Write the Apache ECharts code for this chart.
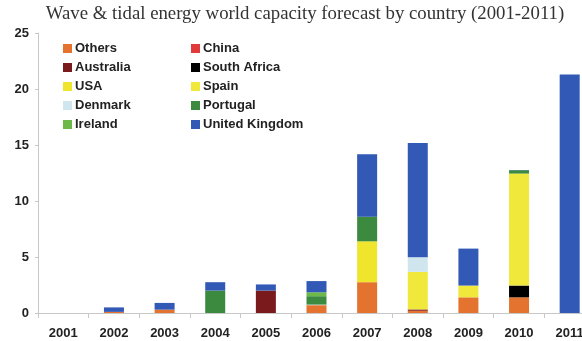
<!DOCTYPE html>
<html><head><meta charset="utf-8">
<script src="https://cdn.jsdelivr.net/npm/echarts@6/dist/echarts.min.js"></script>
<style>html,body{margin:0;padding:0;background:#fff;overflow:hidden;width:582px;height:341px}#c{width:595px;height:341px}</style>
</head><body><div id="c"></div>
<script>
const years = ['2001','2002','2003','2004','2005','2006','2007','2008','2009','2010','2011'];
const others       = [0, 0.1, 0.3, 0,   0,    0.7, 2.75, 0.2, 1.4, 1.4, 0];
const china        = [0, 0,   0,   0,   0,    0,   0,    0,   0,   0,   0];
const australia    = [0, 0,   0,   0,   2.0,  0,   0,    0.12,0,   0,   0];
const southAfrica  = [0, 0,   0,   0,   0,    0,   0,    0,   0,   1.05,0];
const usa          = [0, 0,   0,   0,   0,    0,   3.65, 0,   0,   0,   0];
const spain        = [0, 0,   0,   0,   0,    0,   0,    3.35,1.05,10.0,0];
const denmark      = [0, 0,   0,   0,   0,    0.05,0,    1.3, 0,   0,   0];
const portugal     = [0, 0,   0,   2.0, 0,    0.75,2.2,  0,   0,   0.3, 0];
const ireland      = [0, 0,   0,   0,   0,    0.35,0,    0,   0,   0,   0];
const uk           = [0, 0.4, 0.6, 0.75,0.55, 1.0, 5.57, 10.2,3.3, 0.02,21.3];
const yTicks = [0, 5, 10, 15, 20, 25];

const seriesDefs = [
  ['Others', others, '#e4732f'],
  ['China', china, '#e03a3a'],
  ['Australia', australia, '#7a1a1c'],
  ['South Africa', southAfrica, '#000000'],
  ['USA', usa, '#efe52c'],
  ['Spain', spain, '#f0e83a'],
  ['Denmark', denmark, '#cfe6ee'],
  ['Portugal', portugal, '#3b8a40'],
  ['Ireland', ireland, '#6cb94a'],
  ['United Kingdom', uk, '#3159b5']
];

const chart = echarts.init(document.getElementById('c'), null, {renderer:'canvas'});
const legendCommon = {
  orient: 'vertical', itemWidth: 9, itemHeight: 9, itemGap: 6,
  icon: 'rect',
  textStyle: {fontFamily: 'Liberation Sans, Arial', fontWeight: 'bold', fontSize: 13, color: '#222', padding:[0,0,0,-2]},
  selectedMode: false
};
chart.setOption({
  animation: false,
  title: {
    text: 'Wave & tidal energy world capacity forecast by country (2001-2011)',
    left: 300, top: 0, textAlign: 'center',
    textStyle: {fontFamily: 'Liberation Serif, DejaVu Serif, serif', fontWeight: 'normal', fontSize: 18.8, color: '#333'}
  },
  legend: [
    Object.assign({left: 58, top: 37, data: ['Others','Australia','USA','Denmark','Ireland']}, legendCommon),
    Object.assign({left: 186, top: 37, data: ['China','South Africa','Spain','Portugal','United Kingdom']}, legendCommon)
  ],
  grid: {left: 38, top: 33, right: 0, bottom: 28, containLabel: false},
  xAxis: {
    type: 'category', data: years,
    axisLine: {lineStyle: {color: '#c8c8c8'}},
    axisTick: {show: true, length: 5, lineStyle: {color: '#c8c8c8'}},
    axisLabel: {fontFamily: 'Liberation Sans, Arial', fontWeight: 'bold', fontSize: 13, color: '#222', margin: 14}
  },
  yAxis: {
    type: 'value', min: 0, max: 25, interval: 5,
    axisLine: {show: true, lineStyle: {color: '#c8c8c8'}},
    axisTick: {show: true, length: 3, lineStyle: {color: '#c8c8c8'}},
    splitLine: {show: false},
    axisLabel: {fontFamily: 'Liberation Sans, Arial', fontWeight: 'bold', fontSize: 13, color: '#222', margin: 9,
      formatter: v => yTicks.includes(v) ? String(v) : ''}
  },
  series: seriesDefs.map(([name, data, color]) => ({
    name, type: 'bar', stack: 'total', data, barWidth: 20,
    itemStyle: {color}
  }))
});
</script></body></html>
